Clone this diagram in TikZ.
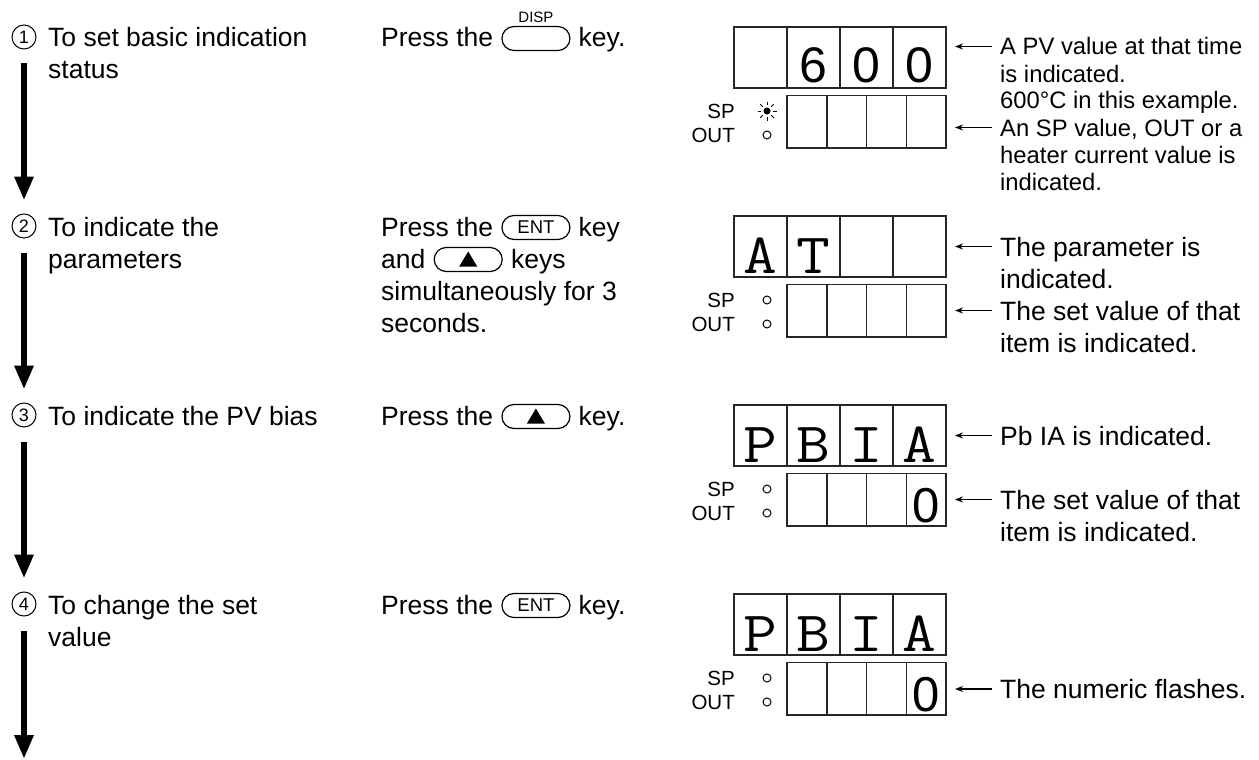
\documentclass[tikz,border=0pt]{standalone}
\usepackage{fontspec}
\setmainfont{Liberation Sans}
\usetikzlibrary{shapes.misc,arrows.meta,calc}
\newcommand\mch[1]{\scalebox{1.15}[1]{#1}}
\tikzset{
 txt/.style={inner sep=0pt, anchor=base west, font=\fontsize{26.5}{32}\selectfont},
 txts/.style={inner sep=0pt, anchor=base west, font=\fontsize{23.8}{27}\selectfont},
 num/.style={circle, draw, line width=1pt, minimum size=24pt, inner sep=0pt, font=\fontsize{18}{18}\selectfont},
 flow/.style={line width=6.5pt, -{Triangle[length=24pt,width=18pt]}},
 keyb/.style={rounded rectangle, draw, line width=1.2pt, minimum width=68pt, minimum height=24pt, inner sep=0pt, font=\fontsize{18.5}{18.5}\selectfont},
 cellT/.style={rectangle, draw=black!85, line width=1.5pt, minimum width=53pt, minimum height=61pt, inner sep=0pt, outer sep=0pt},
 cellB/.style={rectangle, draw=black!85, line width=1.5pt, minimum width=39.75pt, minimum height=52.5pt, inner sep=0pt, outer sep=0pt},
 seg/.style={inner sep=0pt, anchor=base, font=\fontsize{50}{50}\selectfont},
 segs/.style={inner sep=0pt, anchor=base, font=\fontsize{49}{49}\selectfont},
 mono/.style={inner sep=0pt, anchor=base, font=\ttfamily\fontsize{57}{57}\selectfont},
 lab/.style={inner sep=0pt, anchor=base east, font=\fontsize{20.5}{20.5}\selectfont},
 led/.style={circle, draw, line width=1pt, minimum size=8pt, inner sep=0pt},
 ptr/.style={line width=1.3pt, -{Stealth[length=8pt,width=6pt]}},
}
\newcommand\drawdisp[2]{%
 \foreach \k in {1,...,4} {
  \node[cellT] (#1t\k) at ({734+26.5+53*(\k-1)}, {#2+30.5}) {};
  \node[cellB] (#1b\k) at ({787+19.875+39.75*(\k-1)}, {#2+94.75}) {};
 }
 \node[lab] (#1sp) at (735, {#2+91}) {SP};
 \node[lab] (#1out) at (735, {#2+115}) {OUT};
 \node[led] (#1ledout) at (767, {#2+108}) {};
}
\begin{document}
\begin{tikzpicture}[x=1pt,y=-1pt]
\useasboundingbox (0,0) rectangle (1259,760);

% ---------- left column ----------
\node[num] (n1) at (24,37) {1};
\node[num] (n2) at (24,226) {2};
\node[num] (n3) at (24,415) {3};
\node[num] (n4) at (24,604) {4};
\node[txt] (l1a) at (48,47) {To set basic indication};
\node[txt] (l1b) at (48,79) {status};
\node[txt] (l2a) at (48,236) {To indicate the};
\node[txt] (l2b) at (48,268) {parameters};
\node[txt] (l3a) at (48,425) {To indicate the PV bias};
\node[txt] (l4a) at (48,614) {To change the set};
\node[txt] (l4b) at (48,646) {value};
\coordinate (end4) at (24,759);
\draw[flow] ([yshift=-14pt]n1.south) -- ([yshift=13pt]n2.north);
\draw[flow] ([yshift=-14pt]n2.south) -- ([yshift=13pt]n3.north);
\draw[flow] ([yshift=-14pt]n3.south) -- ([yshift=13pt]n4.north);
\draw[flow] ([yshift=-14pt]n4.south) -- (end4);

% ---------- middle column ----------
\node[txt] (m0a) at (381,47) {Press the};
\node[keyb, anchor=west] (k0) at ([xshift=8pt,yshift=8.5pt]m0a.base east) {};
\node[txt] (m0b) at ([xshift=8pt]k0.east |- m0a.base) {key.};
\node[inner sep=0pt, font=\fontsize{15}{15}\selectfont] (k0l) at ([yshift=21pt]k0.center) {DISP};

\node[txt] (m1a) at (381,236) {Press the};
\node[keyb, anchor=west] (k1) at ([xshift=8pt,yshift=8.5pt]m1a.base east) {ENT};
\node[txt] (m1b) at ([xshift=8pt]k1.east |- m1a.base) {key};
\node[txt] (m1c) at (381,268) {and};
\node[keyb, anchor=west] (k1u) at ([xshift=8pt,yshift=8.5pt]m1c.base east) {};
\fill ([shift={(-9pt,-7pt)}]k1u.center) -- ([shift={(9pt,-7pt)}]k1u.center) -- ([shift={(0pt,8pt)}]k1u.center) -- cycle;
\node[txt] (m1d) at ([xshift=8pt]k1u.east |- m1c.base) {keys};
\node[txt] (m1e) at (381,300) {simultaneously for 3};
\node[txt] (m1f) at (381,332) {seconds.};

\node[txt] (m2a) at (381,425) {Press the};
\node[keyb, anchor=west] (k2) at ([xshift=8pt,yshift=8.5pt]m2a.base east) {};
\fill ([shift={(-9pt,-7pt)}]k2.center) -- ([shift={(9pt,-7pt)}]k2.center) -- ([shift={(0pt,8pt)}]k2.center) -- cycle;
\node[txt] (m2b) at ([xshift=8pt]k2.east |- m2a.base) {key.};

\node[txt] (m3a) at (381,614) {Press the};
\node[keyb, anchor=west] (k3) at ([xshift=8pt,yshift=8.5pt]m3a.base east) {ENT};
\node[txt] (m3b) at ([xshift=8pt]k3.east |- m3a.base) {key.};

% ---------- displays ----------
\drawdisp{d0}{27}
\drawdisp{d1}{216}
\drawdisp{d2}{405}
\drawdisp{d3}{594}
% SP indicators
\node[circle, fill, minimum size=7pt, inner sep=0pt] (d0ledsp) at (767,111) {};
\foreach \a in {0,45,...,315}
  \draw[line width=1pt] ([shift={(\a:6pt)}]d0ledsp.center) -- ([shift={(\a:9.5pt)}]d0ledsp.center);
\node[led] (d1ledsp) at (767,300) {};
\node[led] (d2ledsp) at (767,489) {};
\node[led] (d3ledsp) at (767,678) {};
% characters
\node[seg] (c0b) at ([yshift=5pt]d0t2.south) {6};
\node[seg] (c0c) at ([yshift=5pt]d0t3.south) {0};
\node[seg] (c0d) at ([yshift=5pt]d0t4.south) {0};
\node[mono] (c1a) at ([yshift=4pt]d1t1.south) {\mch{A}};
\node[mono] (c1b) at ([yshift=4pt]d1t2.south) {\mch{T}};
\node[mono] (c2a) at ([yshift=4pt]d2t1.south) {\mch{P}};
\node[mono] (c2b) at ([yshift=4pt]d2t2.south) {\mch{B}};
\node[mono] (c2c) at ([yshift=4pt]d2t3.south) {\mch{I}};
\node[mono] (c2d) at ([yshift=4pt]d2t4.south) {\mch{A}};
\node[segs] (c2z) at ([yshift=3.5pt]d2b4.south) {0};
\node[mono] (c3a) at ([yshift=4pt]d3t1.south) {\mch{P}};
\node[mono] (c3b) at ([yshift=4pt]d3t2.south) {\mch{B}};
\node[mono] (c3c) at ([yshift=4pt]d3t3.south) {\mch{I}};
\node[mono] (c3d) at ([yshift=4pt]d3t4.south) {\mch{A}};
\node[segs] (c3z) at ([yshift=3.5pt]d3b4.south) {0};

% ---------- right column ----------
\node[txts] (r0a) at (1000,55) {A PV value at that time};
\node[txts] (r0b) at (1000,82) {is indicated.};
\node[txts] (r0c) at (1000,109) {600°C in this example.};
\node[txts] (r0d) at (1000,136) {An SP value, OUT or a};
\node[txts] (r0e) at (1000,163) {heater current value is};
\node[txts] (r0f) at (1000,190) {indicated.};
\draw[ptr] ($(r0a.base west)+(-8pt,8.5pt)$) -- ($(d0t4.east |- r0a.base west)+(9pt,8.5pt)$);
\draw[ptr] ($(r0d.base west)+(-8pt,8.5pt)$) -- ($(d0b4.east |- r0d.base west)+(9pt,8.5pt)$);

\node[txt] (r1a) at (1000,256) {The parameter is};
\node[txt] (r1b) at (1000,288) {indicated.};
\node[txt] (r1c) at (1000,320) {The set value of that};
\node[txt] (r1d) at (1000,352) {item is indicated.};
\draw[ptr] ($(r1a.base west)+(-8pt,9.5pt)$) -- ($(d1t4.east |- r1a.base west)+(9pt,9.5pt)$);
\draw[ptr] ($(r1c.base west)+(-8pt,9.5pt)$) -- ($(d1b4.east |- r1c.base west)+(9pt,9.5pt)$);

\node[txt] (r2a) at (1000,445) {Pb IA is indicated.};
\node[txt] (r2c) at (1000,509) {The set value of that};
\node[txt] (r2d) at (1000,541) {item is indicated.};
\draw[ptr] ($(r2a.base west)+(-8pt,9.5pt)$) -- ($(d2t4.east |- r2a.base west)+(9pt,9.5pt)$);
\draw[ptr] ($(r2c.base west)+(-8pt,9.5pt)$) -- ($(d2b4.east |- r2c.base west)+(9pt,9.5pt)$);

\node[txt] (r3a) at (1000,698.5) {The numeric flashes.};
\draw[ptr] ($(r3a.base west)+(-8pt,9.5pt)$) -- ($(d3b4.east |- r3a.base west)+(9pt,9.5pt)$);
\end{tikzpicture}
\end{document}
